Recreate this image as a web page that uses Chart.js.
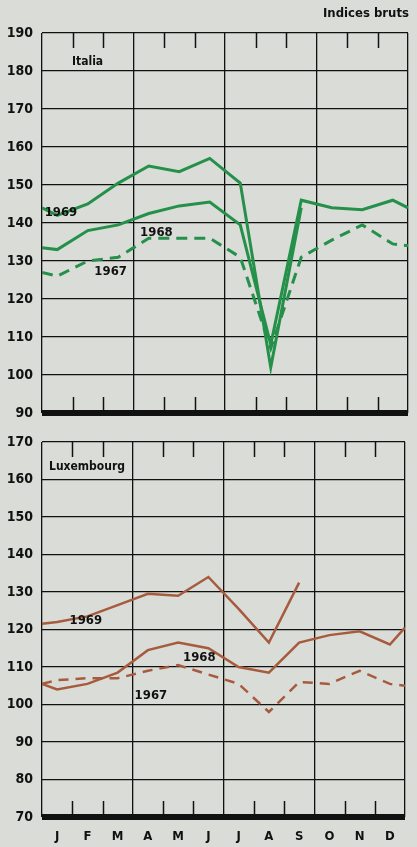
<!DOCTYPE html>
<html>
<head>
<meta charset="utf-8">
<script src="https://cdn.jsdelivr.net/npm/chart.js@4/dist/chart.umd.min.js"></script>
<style>
    html, body { margin: 0; padding: 0; background: #dadcd7; }
    #wrap { position: relative; width: 417px; height: 847px; overflow: hidden; }
    #wrap canvas { position: absolute; left: 0; top: 0; }
    #unit {
        position: absolute; right: 8px; top: 5px;
        font: bold 13px "DejaVu Sans Condensed", "DejaVu Sans", sans-serif;
        color: #111;
    }
</style>
</head>
<body>
<div id="wrap">
    <canvas id="italiaChart" width="417" height="847"></canvas>
    <canvas id="luxChart" width="417" height="847"></canvas>
    <div id="unit">Indices bruts</div>
</div>
<script>
// Month labels (one per month, shown at the middle of each month)
const months = ['J', 'F', 'M', 'A', 'M', 'J', 'J', 'A', 'S', 'O', 'N', 'D'];

// Each series: value at left frame edge, Jan..Dec, value at right frame edge
const italia1969 = [144, 142, 145, 150.5, 155, 153.5, 157, 150.5, 102, 144, null, null, null, null];
const italia1968 = [133.5, 133, 138, 139.5, 142.5, 144.5, 145.5, 139.5, 108, 146, 144, 143.5, 146, 144];
const italia1967 = [127, 126, 130, 131, 136, 136, 136, 131, 107, 131, 135.5, 139.5, 134.5, 134];

const lux1969 = [121.5, 122, 123.5, 126.5, 129.5, 129, 134, 125.5, 116.5, 132.5, null, null, null, null];
const lux1968 = [105.5, 104, 105.5, 108.5, 114.5, 116.5, 115, 110, 108.5, 116.5, 118.5, 119.5, 116, 120.5];
const lux1967 = [105.5, 106.5, 107, 107, 109, 110.5, 108, 105.5, 98, 106, 105.5, 109, 105.5, 105];

const italiaTicks = [90, 190];
const luxTicks = [70, 170];

const GREEN = '#24904a';
const BROWN = '#a65b3e';
const FONT = '"DejaVu Sans Condensed", "DejaVu Sans", sans-serif';

// map the 14 values onto the month axis (0 = left frame, 12 = right frame)
function toPoints(values) {
    return values.map((v, i) => {
        let x = i - 0.5;
        if (i === 0) x = 0;
        if (i === values.length - 1) x = 12;
        return { x: x, y: v };
    });
}

// short month marks, year labels and panel name
const decorPlugin = {
    id: 'decor',
    afterDraw(chart, args, opts) {
        const ctx = chart.ctx;
        const area = chart.chartArea;
        const xs = chart.scales.x;
        const ys = chart.scales.y;
        ctx.save();
        ctx.strokeStyle = '#111';
        ctx.lineWidth = 1.5;
        [1, 2, 4, 5, 7, 8, 10, 11].forEach(m => {
            const px = Math.round(xs.getPixelForValue(m)) + 0.5;
            ctx.beginPath();
            ctx.moveTo(px, area.top);
            ctx.lineTo(px, area.top + 15);
            ctx.moveTo(px, area.bottom);
            ctx.lineTo(px, area.bottom - 16);
            ctx.stroke();
        });
        ctx.fillStyle = '#111';
        ctx.textBaseline = 'middle';
        ctx.textAlign = 'left';
        ctx.font = 'bold 12px ' + FONT;
        ctx.fillText(opts.name, opts.nameAt[0], opts.nameAt[1]);
        ctx.textAlign = 'center';
        ctx.font = 'bold 13px ' + FONT;
        opts.years.forEach(n => {
            ctx.fillText(n.text, xs.getPixelForValue(n.x), ys.getPixelForValue(n.y));
        });
        ctx.restore();
    }
};

function makeChart(canvasId, series, color, range, isBottom, name, nameAt, years) {
    const el = document.getElementById(canvasId);
    return new Chart(el, {
        type: 'line',
        data: {
            datasets: series.map(s => ({
                label: s.label,
                data: toPoints(s.data),
                borderColor: color,
                borderWidth: s.width,
                borderDash: s.dash,
                pointRadius: 0,
                tension: 0,
                fill: false,
                spanGaps: false
            }))
        },
        options: {
            responsive: false,
            animation: false,
            devicePixelRatio: 1,
            layout: {
                padding: isBottom
                    ? { left: 0, right: 9, top: 442, bottom: 0 }
                    : { left: 0, right: 9, top: 33, bottom: 434 }
            },
            plugins: {
                legend: { display: false },
                tooltip: { enabled: false },
                decor: { name: name, nameAt: nameAt, years: years }
            },
            scales: {
                x: {
                    type: 'linear',
                    min: 0,
                    max: 12,
                    afterBuildTicks: scale => {
                        const t = [];
                        for (let v = 0; v <= 12; v += 0.5) t.push({ value: v });
                        scale.ticks = t;
                    },
                    afterFit: scale => { scale.height = isBottom ? 30 : 0; },
                    border: { display: false },
                    grid: {
                        drawTicks: false,
                        lineWidth: 1.3,
                        color: ctx => (ctx.tick && ctx.tick.value % 3 === 0) ? '#111' : 'rgba(0,0,0,0)'
                    },
                    ticks: {
                        display: isBottom,
                        autoSkip: false,
                        maxRotation: 0,
                        padding: 12,
                        color: '#111',
                        font: { family: FONT, size: 13, weight: 'bold' },
                        callback: v => (v % 1 === 0.5) ? months[Math.floor(v)] : ''
                    }
                },
                y: {
                    min: range[0],
                    max: range[1],
                    afterFit: scale => { scale.width = 42; },
                    border: { display: false },
                    grid: {
                        drawTicks: false,
                        color: '#111',
                        lineWidth: ctx => (ctx.tick && ctx.tick.value === range[0]) ? 6 : 1.3
                    },
                    ticks: {
                        stepSize: 10,
                        padding: 9,
                        color: '#111',
                        font: { family: FONT, size: 14, weight: 'bold' }
                    }
                }
            }
        },
        plugins: [decorPlugin]
    });
}

document.addEventListener('DOMContentLoaded', function() {
    makeChart('italiaChart', [
        { label: '1969', data: italia1969, width: 3, dash: [] },
        { label: '1968', data: italia1968, width: 3, dash: [] },
        { label: '1967', data: italia1967, width: 3, dash: [11, 7] }
    ], GREEN, italiaTicks, false, 'Italia', [72, 62], [
        { text: '1969', x: 0.62, y: 142.7 },
        { text: '1968', x: 3.75, y: 137.5 },
        { text: '1967', x: 2.25, y: 127.3 }
    ]);

    makeChart('luxChart', [
        { label: '1969', data: lux1969, width: 2.5, dash: [] },
        { label: '1968', data: lux1968, width: 2.5, dash: [] },
        { label: '1967', data: lux1967, width: 2.5, dash: [10, 7] }
    ], BROWN, luxTicks, true, 'Luxembourg', [49, 467], [
        { text: '1969', x: 1.45, y: 122.5 },
        { text: '1968', x: 5.2, y: 112.4 },
        { text: '1967', x: 3.6, y: 102.5 }
    ]);
});
</script>
</body>
</html>
